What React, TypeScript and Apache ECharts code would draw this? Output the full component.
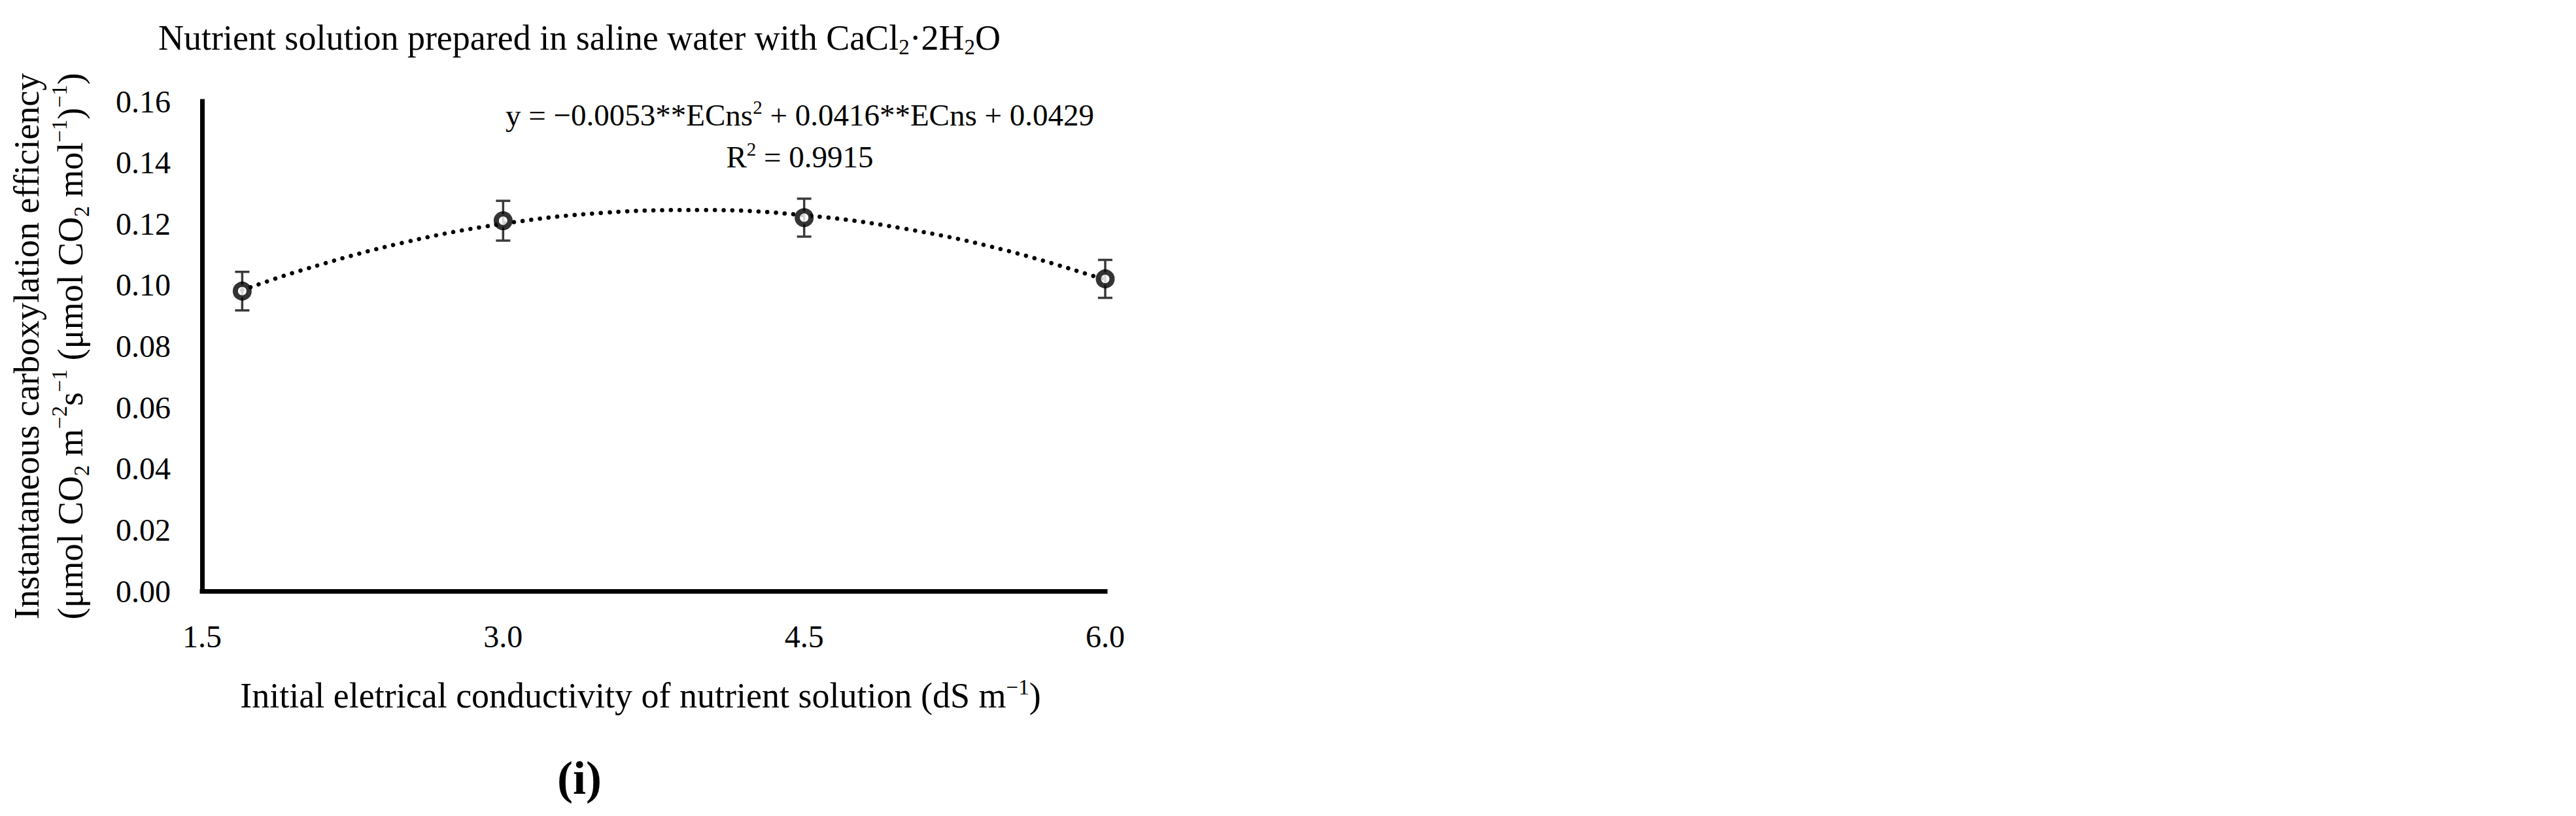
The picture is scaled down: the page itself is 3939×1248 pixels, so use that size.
import React, { useEffect, useRef } from 'react';
import * as echarts from 'echarts';

// ---- data ----
const ecns = [1.7, 3.0, 4.5, 6.0];
const efficiency = [0.098, 0.121, 0.122, 0.102];
const stdError = [0.0063, 0.0065, 0.0062, 0.0062];
// fitted quadratic trend line
const trendX = [1.7, 2.0, 2.5, 3.0, 3.5, 4.0, 4.5, 5.0, 5.5, 6.0];
const trendY = [0.0983, 0.1049, 0.1138, 0.12, 0.1236, 0.1245, 0.1228, 0.1184, 0.1114, 0.1017];
const xMin = 1.5;
const xMax = 6.0;
const xStep = 1.5;
const yMin = 0;
const yMax = 0.16;
const yStep = 0.02;

const titleText = '{n|Nutrient solution prepared in saline water with CaCl}{sub|2}{n|·2H}{sub|2}{n|O}';
const eqLine1 = '{n|y = −0.0053**ECns}{sup|2}{n| + 0.0416**ECns + 0.0429}';
const eqLine2 = '{n|R}{sup|2}{n| = 0.9915}';
const yName =
  '{n|Instantaneous carboxylation efficiency}\n' +
  '{n|(μmol CO}{sub|2}{n| m}{sup|−2}{n|s}{sup|−1}{n| (μmol CO}{sub|2}{n| mol}{sup|−1}{n|)}{sup|−1}{n|)}';
const xName = '{n|Initial eletrical conductivity of nutrient solution (dS m}{sup|−1}{n|)}';
const panelLabel = '(i)';

const FONT = '"Liberation Serif", "DejaVu Serif", serif';
const INK = '#000000';

export default function App() {
  const ref = useRef<HTMLDivElement>(null);

  useEffect(() => {
    if (!ref.current) return;
    const chart = echarts.init(ref.current, undefined, { renderer: 'svg' });

    const gridLeft = 309;
    const gridRight = 3939 - 1690;
    const gridTop = 155;
    const gridBottom = 1248 - 904;

    const option: any = {
      animation: false,
      backgroundColor: '#ffffff',
      textStyle: { fontFamily: FONT, color: INK },
      grid: { left: gridLeft, right: gridRight, top: gridTop, bottom: gridBottom, containLabel: false },
      xAxis: {
        type: 'value',
        min: xMin,
        max: xMax,
        interval: xStep,
        axisLine: { show: true, onZero: false, lineStyle: { color: INK, width: 7, cap: 'square' } },
        axisTick: { show: false },
        splitLine: { show: false },
        axisLabel: {
          margin: 45,
          fontSize: 48,
          fontFamily: FONT,
          color: INK,
          formatter: (v: number) => v.toFixed(1),
        },
        name: xName,
        nameLocation: 'middle',
        nameGap: 130,
        nameTextStyle: {
          fontFamily: FONT,
          color: INK,
          padding: [0, 40, 0, 0],
          rich: {
            n: { fontSize: 54, lineHeight: 60, fontFamily: FONT, color: INK },
            sup: { fontSize: 33, lineHeight: 36, verticalAlign: 'top', fontFamily: FONT, color: INK },
          },
        },
      },
      yAxis: {
        type: 'value',
        min: yMin,
        max: yMax,
        interval: yStep,
        axisLine: { show: true, lineStyle: { color: INK, width: 7, cap: 'square' } },
        axisTick: { show: false },
        splitLine: { show: false },
        axisLabel: {
          margin: 48,
          fontSize: 48,
          fontFamily: FONT,
          color: INK,
          formatter: (v: number) => v.toFixed(2),
        },
        name: yName,
        nameLocation: 'middle',
        nameRotate: 90,
        nameGap: 168,
        nameTextStyle: {
          fontFamily: FONT,
          color: INK,
          rich: {
            n: { fontSize: 54, lineHeight: 67, fontFamily: FONT, color: INK },
            sub: { fontSize: 33, lineHeight: 39, verticalAlign: 'bottom', fontFamily: FONT, color: INK },
            sup: { fontSize: 33, lineHeight: 43, verticalAlign: 'top', fontFamily: FONT, color: INK },
          },
        },
      },
      series: [
        {
          name: 'trend',
          type: 'line',
          data: trendX.map((x, i) => [x, trendY[i]]),
          smooth: 0.4,
          showSymbol: false,
          symbol: 'none',
          lineStyle: { color: INK, width: 6.5, type: [0.1, 13.3], cap: 'round' },
          z: 2,
          silent: true,
        },
        {
          name: 'error',
          type: 'custom',
          data: ecns.map((x, i) => [x, efficiency[i], stdError[i]]),
          encode: { x: 0, y: 1 },
          z: 3,
          renderItem: (params: any, api: any) => {
            const x = api.value(0);
            const y = api.value(1);
            const e = api.value(2);
            const top = api.coord([x, y + e]);
            const bot = api.coord([x, y - e]);
            const hw = 11;
            const st = { stroke: '#3a3a3a', lineWidth: 3.5 };
            return {
              type: 'group',
              children: [
                { type: 'line', shape: { x1: top[0], y1: top[1], x2: bot[0], y2: bot[1] }, style: st },
                { type: 'line', shape: { x1: top[0] - hw, y1: top[1], x2: top[0] + hw, y2: top[1] }, style: st },
                { type: 'line', shape: { x1: bot[0] - hw, y1: bot[1], x2: bot[0] + hw, y2: bot[1] }, style: st },
              ],
            };
          },
        },
        {
          name: 'means',
          type: 'scatter',
          data: ecns.map((x, i) => [x, efficiency[i]]),
          symbol: 'circle',
          symbolSize: 21,
          itemStyle: { color: '#ffffff', borderColor: INK, borderWidth: 8 },
          z: 4,
        },
      ],
      graphic: [
        {
          type: 'text',
          x: 886,
          y: 58,
          style: {
            text: titleText,
            align: 'center',
            verticalAlign: 'middle',
            fontFamily: FONT,
            fill: INK,
            rich: {
              n: { fontSize: 54, lineHeight: 60, fontFamily: FONT, fill: INK },
              sub: { fontSize: 33, lineHeight: 33, verticalAlign: 'bottom', fontFamily: FONT, fill: INK },
            },
          },
        },
        {
          type: 'text',
          x: 1223,
          y: 176,
          style: {
            text: eqLine1,
            align: 'center',
            verticalAlign: 'middle',
            fontFamily: FONT,
            fill: INK,
            rich: {
              n: { fontSize: 47, lineHeight: 54, fontFamily: FONT, fill: INK },
              sup: { fontSize: 29, lineHeight: 31, verticalAlign: 'top', fontFamily: FONT, fill: INK },
            },
          },
        },
        {
          type: 'text',
          x: 1223,
          y: 240,
          style: {
            text: eqLine2,
            align: 'center',
            verticalAlign: 'middle',
            fontFamily: FONT,
            fill: INK,
            rich: {
              n: { fontSize: 47, lineHeight: 54, fontFamily: FONT, fill: INK },
              sup: { fontSize: 29, lineHeight: 31, verticalAlign: 'top', fontFamily: FONT, fill: INK },
            },
          },
        },
        {
          type: 'text',
          x: 886,
          y: 1190,
          style: {
            text: panelLabel,
            align: 'center',
            verticalAlign: 'middle',
            fontFamily: FONT,
            fontSize: 72,
            fontWeight: 'bold',
            fill: INK,
          },
        },
      ],
    };

    chart.setOption(option);
    return () => chart.dispose();
  }, []);

  return (
    <div
      ref={ref}
      style={{ position: 'fixed', left: 0, top: 0, width: 3939, height: 1248, background: '#ffffff' }}
    />
  );
}
